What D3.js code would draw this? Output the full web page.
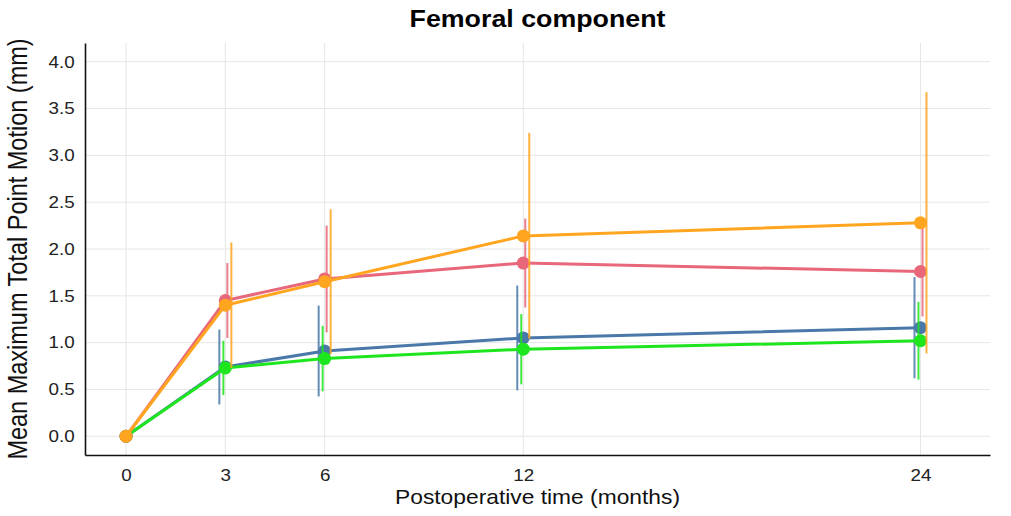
<!DOCTYPE html>
<html>
<head>
<meta charset="utf-8">
<script src="https://cdn.jsdelivr.net/npm/d3@7"></script>
<style>
  html, body { margin: 0; padding: 0; background: #fff; }
  svg { display: block; font-family: "Liberation Sans", Arial, Helvetica, sans-serif; }
</style>
</head>
<body>
<svg id="chart" width="1011" height="516"></svg>
<script>
// Follow-up time points (months)
const months = [0, 3, 6, 12, 24];
const xTicks = [0, 3, 6, 12, 24];
const yTicks = [0, 0.5, 1, 1.5, 2, 2.5, 3, 3.5, 4];

// Group names, in drawing / dodge order
const groups = ["Group 1", "Group 2", "Group 3", "Group 4"];
const colors = ["#4a78a8", "#1ee61e", "#e8677a", "#ffa51f"];

// Mean maximum total point motion (mm) per group
const meanG1 = [0, 0.74, 0.91, 1.05, 1.16];
const meanG2 = [0, 0.73, 0.83, 0.93, 1.02];
const meanG3 = [0, 1.45, 1.68, 1.85, 1.76];
const meanG4 = [0, 1.40, 1.65, 2.14, 2.28];

// Standard deviations (error bar half-lengths)
const sdG1 = [0, 0.40, 0.485, 0.56, 0.54];
const sdG2 = [0, 0.29, 0.35, 0.375, 0.415];
const sdG3 = [0, 0.40, 0.57, 0.475, 0.48];
const sdG4 = [0, 0.67, 0.775, 1.10, 1.395];

const means = [meanG1, meanG2, meanG3, meanG4];
const sds = [sdG1, sdG2, sdG3, sdG4];

// Text is drawn slightly wide
const SX = 1.14;

const svg = d3.select("#chart");
const margin = { left: 85, right: 21, top: 43, bottom: 61 };
const W = 1011, H = 516;

const x = d3.scaleLinear().domain([-1.24, 26.1]).range([margin.left, W - margin.right]);
const y = d3.scaleLinear().domain([-0.2, 4.2]).range([H - margin.bottom, margin.top]);

// Grid
const grid = svg.append("g");
grid.selectAll("line.h").data(yTicks).join("line")
  .attr("x1", margin.left).attr("x2", W - margin.right)
  .attr("y1", d => y(d)).attr("y2", d => y(d))
  .attr("stroke", "#e6e6e6").attr("stroke-width", 1);
grid.selectAll("line.v").data(xTicks).join("line")
  .attr("y1", margin.top).attr("y2", H - margin.bottom)
  .attr("x1", d => x(d)).attr("x2", d => x(d))
  .attr("stroke", "#e6e6e6").attr("stroke-width", 1);

// Axes
const xAxis = d3.axisBottom(x).tickValues(xTicks).tickSize(0).tickPadding(14).tickFormat(d3.format("d"));
const yAxis = d3.axisLeft(y).tickValues(yTicks).tickSize(0).tickPadding(9).tickFormat(d3.format(".1f"));

const gx = svg.append("g").attr("transform", `translate(0,${H - margin.bottom})`).call(xAxis);
const gy = svg.append("g").attr("transform", `translate(${margin.left},0)`).call(yAxis);
[gx, gy].forEach(g => {
  g.select(".domain").attr("stroke", "#111").attr("stroke-width", 1.6);
  g.selectAll("text").attr("font-size", 16.5).attr("fill", "#222")
    .attr("font-family", "'Liberation Sans', Arial, sans-serif")
    .attr("transform", `scale(${SX},1)`);
});

// Series
const dodge = [-6, -2, 2, 6];
const plot = svg.append("g");
const line = d3.line().x(d => x(d.m)).y(d => y(d.v));

groups.forEach((g, i) => {
  const pts = months.map((m, j) => ({ m, v: means[i][j], sd: sds[i][j] }));
  const gg = plot.append("g");
  // error bars (dodged)
  gg.selectAll("line.err").data(pts.filter(p => p.sd > 0)).join("line")
    .attr("x1", p => x(p.m) + dodge[i]).attr("x2", p => x(p.m) + dodge[i])
    .attr("y1", p => y(p.v - p.sd)).attr("y2", p => y(p.v + p.sd))
    .attr("stroke", colors[i]).attr("stroke-width", 2).attr("opacity", 0.85);
  gg.append("path").datum(pts).attr("d", line)
    .attr("fill", "none").attr("stroke", colors[i]).attr("stroke-width", 3);
  gg.selectAll("circle").data(pts).join("circle")
    .attr("cx", p => x(p.m)).attr("cy", p => y(p.v)).attr("r", 6.5)
    .attr("fill", colors[i]);
});

// Titles
const cx = (margin.left + W - margin.right) / 2;
svg.append("text").attr("transform", `translate(${cx},27) scale(${SX},1)`)
  .attr("text-anchor", "middle").attr("font-size", 23.5).attr("font-weight", "bold")
  .attr("fill", "#000").text("Femoral component");

svg.append("text").attr("transform", `translate(${cx},504) scale(${SX},1)`)
  .attr("text-anchor", "middle").attr("font-size", 20).attr("fill", "#111")
  .text("Postoperative time (months)");

svg.append("text")
  .attr("transform", `translate(27,${(margin.top + H - margin.bottom) / 2}) scale(${SX},1) rotate(-90)`)
  .attr("text-anchor", "middle").attr("font-size", 23.5).attr("fill", "#111")
  .text("Mean Maximum Total Point Motion (mm)");
</script>
</body>
</html>
